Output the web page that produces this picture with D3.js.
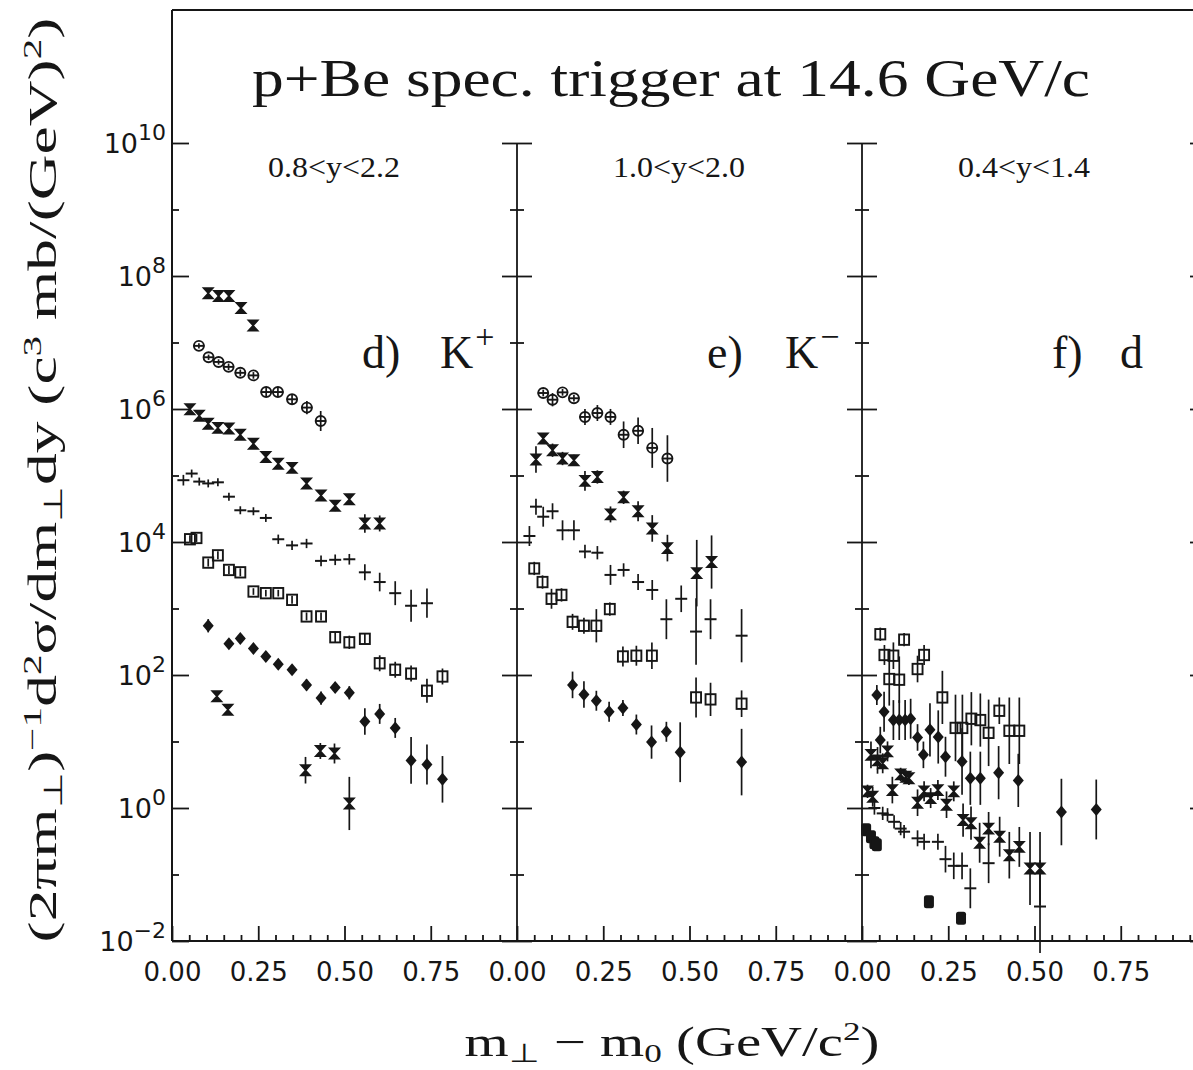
<!DOCTYPE html>
<html>
<head>
<meta charset="utf-8">
<script src="https://cdn.jsdelivr.net/npm/d3@7"></script>
<style>
  body { margin: 0; background: #fff; }
  svg { display: block; }
</style>
</head>
<body>
<div id="chart"></div>
<script>
// axis ticks and labels
const xMajorTicks = [0, 0.25, 0.5, 0.75];
const xMinorTicks = [0.05, 0.1, 0.15, 0.2, 0.3, 0.35, 0.4, 0.45, 0.55, 0.6, 0.65, 0.7, 0.8, 0.85, 0.9, 0.95];
const yMajorExps = [-2, 0, 2, 4, 6, 8, 10];
const yMinorExps = [-1, 1, 3, 5, 7, 9];
const rapidityLabels = ['0.8<y<2.2', '1.0<y<2.0', '0.4<y<1.4'];
const particleLabels = [['d)', 'K', '+'], ['e)', 'K', '\u2212'], ['f)', 'd', '']];

// d) K+   (x = mT - m0, y = invariant yield, e = half error bar in decades)
const kpStarA = {
  x: [0.105, 0.135, 0.165, 0.20, 0.235],
  y: [5.5e7, 5.0e7, 5.0e7, 3.3e7, 1.8e7],
  e: [0.04, 0.04, 0.04, 0.05, 0.07]
};
const kpCircle = {
  x: [0.078, 0.106, 0.135, 0.164, 0.198, 0.236, 0.273, 0.307, 0.348, 0.391, 0.431],
  y: [8.9e6, 6.0e6, 5.1e6, 4.3e6, 3.5e6, 3.2e6, 1.8e6, 1.8e6, 1.4e6, 1.05e6, 6.6e5],
  e: [0.04, 0.04, 0.04, 0.05, 0.05, 0.05, 0.06, 0.06, 0.07, 0.1, 0.15]
};
const kpStarB = {
  x: [0.052, 0.079, 0.105, 0.133, 0.165, 0.198, 0.236, 0.272, 0.308, 0.348, 0.390, 0.432, 0.473, 0.514, 0.559, 0.602],
  y: [9.9e5, 7.9e5, 6.0e5, 5.2e5, 5.1e5, 4.1e5, 3.0e5, 1.9e5, 1.5e5, 1.3e5, 7.6e4, 5.0e4, 3.5e4, 4.4e4, 1.9e4, 1.9e4],
  e: [0.04, 0.04, 0.04, 0.04, 0.04, 0.05, 0.05, 0.05, 0.06, 0.06, 0.07, 0.08, 0.08, 0.08, 0.14, 0.12]
};
const kpCross = {
  x: [0.033, 0.057, 0.079, 0.105, 0.133, 0.165, 0.198, 0.236, 0.272, 0.308, 0.348, 0.390, 0.432, 0.473, 0.514, 0.559, 0.602, 0.647, 0.693, 0.739],
  y: [8.5e4, 1.07e5, 8.1e4, 7.6e4, 7.9e4, 4.8e4, 3.0e4, 2.9e4, 2.3e4, 1.1e4, 8.9e3, 9.5e3, 5.2e3, 5.4e3, 5.5e3, 3.5e3, 2.5e3, 1.7e3, 1.1e3, 1.2e3],
  e: [0.08, 0.06, 0.06, 0.06, 0.06, 0.06, 0.06, 0.06, 0.06, 0.07, 0.07, 0.07, 0.08, 0.08, 0.08, 0.12, 0.14, 0.18, 0.24, 0.22]
};
const kpSquare = {
  x: [0.052, 0.071, 0.105, 0.133, 0.165, 0.198, 0.236, 0.272, 0.308, 0.348, 0.390, 0.432, 0.473, 0.514, 0.559, 0.602, 0.647, 0.693, 0.739, 0.784],
  y: [1.1e4, 1.15e4, 4.9e3, 6.3e3, 3.8e3, 3.5e3, 1.8e3, 1.7e3, 1.7e3, 1.35e3, 760, 760, 370, 310, 350, 150, 120, 105, 58, 95],
  e: [0.06, 0.06, 0.06, 0.06, 0.06, 0.06, 0.05, 0.05, 0.05, 0.06, 0.06, 0.06, 0.08, 0.1, 0.08, 0.12, 0.12, 0.12, 0.18, 0.12]
};
const kpDiamond = {
  x: [0.105, 0.165, 0.198, 0.236, 0.272, 0.308, 0.348, 0.390, 0.432, 0.473, 0.514, 0.559, 0.602, 0.647, 0.693, 0.739, 0.784],
  y: [550, 295, 355, 250, 190, 145, 120, 71, 45, 65, 54, 20, 26, 16, 5.2, 4.5, 2.7],
  e: [0.1, 0.05, 0.05, 0.05, 0.05, 0.05, 0.05, 0.08, 0.1, 0.08, 0.1, 0.2, 0.15, 0.15, 0.35, 0.3, 0.35]
};
const kpStarC = {
  x: [0.130, 0.162, 0.387, 0.430, 0.471, 0.514],
  y: [48, 30, 3.7, 7.2, 6.6, 1.17],
  e: [0.06, 0.06, 0.2, 0.12, 0.15, 0.4]
};

// e) K-
const kmCircle = {
  x: [0.076, 0.103, 0.132, 0.165, 0.197, 0.233, 0.271, 0.309, 0.351, 0.392, 0.436],
  y: [1.74e6, 1.38e6, 1.78e6, 1.45e6, 7.6e5, 8.7e5, 7.6e5, 4.1e5, 4.7e5, 2.6e5, 1.8e5],
  e: [0.05, 0.1, 0.05, 0.05, 0.12, 0.12, 0.12, 0.2, 0.2, 0.3, 0.35]
};
const kmStar = {
  x: [0.055, 0.076, 0.103, 0.132, 0.165, 0.197, 0.233, 0.271, 0.309, 0.351, 0.392, 0.436, 0.521, 0.564],
  y: [1.74e5, 3.6e5, 2.4e5, 1.8e5, 1.7e5, 8.3e4, 9.5e4, 2.6e4, 4.7e4, 2.9e4, 1.6e4, 8.1e3, 3.4e3, 5.0e3],
  e: [0.2, 0.06, 0.1, 0.1, 0.08, 0.15, 0.1, 0.12, 0.1, 0.15, 0.2, 0.2, 0.5, 0.4]
};
const kmCross = {
  x: [0.036, 0.055, 0.076, 0.103, 0.132, 0.165, 0.197, 0.233, 0.271, 0.309, 0.351, 0.392, 0.433, 0.476, 0.519, 0.561, 0.651],
  y: [1.23e4, 3.4e4, 2.4e4, 2.9e4, 1.5e4, 1.5e4, 7.2e3, 6.9e3, 3.2e3, 3.8e3, 2.5e3, 1.9e3, 690, 1.4e3, 450, 690, 390],
  e: [0.15, 0.12, 0.15, 0.12, 0.15, 0.15, 0.1, 0.1, 0.15, 0.1, 0.12, 0.15, 0.3, 0.2, 0.5, 0.3, 0.4]
};
const kmSquare = {
  x: [0.05, 0.074, 0.100, 0.129, 0.161, 0.194, 0.230, 0.269, 0.307, 0.346, 0.391, 0.519, 0.561, 0.651],
  y: [4.0e3, 2.5e3, 1.4e3, 1.6e3, 630, 550, 550, 980, 190, 195, 195, 46, 43, 37],
  e: [0.1, 0.1, 0.15, 0.1, 0.12, 0.12, 0.25, 0.1, 0.15, 0.15, 0.2, 0.3, 0.25, 0.2]
};
const kmDiamond = {
  x: [0.161, 0.194, 0.230, 0.267, 0.307, 0.346, 0.390, 0.433, 0.473, 0.651],
  y: [71, 51, 41, 28, 32, 18, 9.8, 14, 6.9, 4.9],
  e: [0.2, 0.2, 0.15, 0.15, 0.12, 0.15, 0.25, 0.15, 0.45, 0.5]
};

// f) d
const dSquare = {
  x: [0.053, 0.065, 0.079, 0.091, 0.108, 0.122, 0.161, 0.180, 0.233, 0.271, 0.291, 0.317, 0.343, 0.367, 0.398, 0.427, 0.456],
  y: [410, 200, 87, 195, 85, 340, 123, 200, 46, 16, 16, 22, 21, 13.5, 29, 14.5, 14.5],
  e: [0.1, 0.15, 0.4, 0.2, 0.35, 0.1, 0.2, 0.15, 0.4, 0.5, 0.5, 0.4, 0.4, 0.5, 0.2, 0.5, 0.5]
};
const dDiamond = {
  x: [0.043, 0.053, 0.064, 0.091, 0.108, 0.125, 0.141, 0.161, 0.178, 0.197, 0.221, 0.242, 0.290, 0.314, 0.343, 0.396, 0.453, 0.578, 0.679],
  y: [50, 10.5, 28, 21, 21, 21, 22, 11.5, 6.3, 15, 11.7, 5.9, 5.0, 2.8, 2.8, 3.4, 2.6, 0.87, 0.95],
  e: [0.15, 0.2, 0.3, 0.3, 0.3, 0.3, 0.3, 0.2, 0.2, 0.4, 0.4, 0.3, 0.5, 0.4, 0.4, 0.4, 0.4, 0.5, 0.45]
};
const dStar = {
  x: [0.016, 0.026, 0.031, 0.045, 0.060, 0.074, 0.088, 0.112, 0.127, 0.136, 0.161, 0.180, 0.199, 0.220, 0.245, 0.266, 0.293, 0.316, 0.341, 0.367, 0.399, 0.427, 0.456, 0.487, 0.516],
  y: [1.78, 6.3, 1.48, 5.2, 4.7, 7.1, 1.86, 3.2, 2.95, 2.8, 1.2, 1.78, 1.41, 1.86, 1.12, 1.78, 0.66, 0.59, 0.30, 0.49, 0.37, 0.195, 0.26, 0.123, 0.123],
  e: [0.1, 0.2, 0.15, 0.2, 0.15, 0.15, 0.2, 0.1, 0.1, 0.1, 0.2, 0.15, 0.15, 0.15, 0.2, 0.15, 0.25, 0.25, 0.3, 0.25, 0.3, 0.35, 0.3, 0.55, 0.55]
};
const dCross = {
  x: [0.036, 0.060, 0.074, 0.093, 0.112, 0.122, 0.161, 0.180, 0.220, 0.242, 0.266, 0.290, 0.314, 0.367, 0.516],
  y: [1.0, 0.83, 0.79, 0.62, 0.49, 0.44, 0.35, 0.31, 0.31, 0.17, 0.135, 0.135, 0.062, 0.148, 0.033],
  e: [0.1, 0.1, 0.1, 0.1, 0.1, 0.1, 0.12, 0.12, 0.12, 0.2, 0.2, 0.2, 0.3, 0.3, 0.7]
};
const dFilled = {
  x: [0.012, 0.026, 0.036, 0.043, 0.194, 0.287],
  y: [0.47, 0.37, 0.30, 0.28, 0.039, 0.022],
  e: [0.08, 0.08, 0.08, 0.08, 0.08, 0.08]
};

const panelSeries = [
  [['star', kpStarA], ['circle', kpCircle], ['star', kpStarB], ['cross', kpCross], ['square', kpSquare], ['diamond', kpDiamond], ['star', kpStarC]],
  [['circle', kmCircle], ['star', kmStar], ['cross', kmCross], ['square', kmSquare], ['diamond', kmDiamond]],
  [['square', dSquare], ['diamond', dDiamond], ['star', dStar], ['cross', dCross], ['filled', dFilled]]
];

const width = 1193;
const height = 1070;
const plotLeft = 172;
const plotTop = 10;
const plotBottom = 941;
const panelW = 345;
const ink = '#161616';
const serif = "'Liberation Serif', 'Times New Roman', serif";

const svg = d3.select('#chart').append('svg')
  .attr('width', width).attr('height', height)
  .style('font-family', serif);

const y = d3.scaleLog().domain([1e-2, 1e12]).range([plotBottom, plotTop]);
const yMajor = yMajorExps.map((e) => Math.pow(10, e));
const yMinor = yMinorExps.map((e) => Math.pow(10, e));

const xScales = [0, 1, 2].map((i) =>
  d3.scaleLinear().domain([0, 1]).range([plotLeft + i * panelW, plotLeft + (i + 1) * panelW])
);

// frame
svg.append('line').attr('x1', plotLeft).attr('x2', width).attr('y1', plotTop).attr('y2', plotTop)
  .attr('stroke', ink).attr('stroke-width', 2);
svg.append('line').attr('x1', plotLeft).attr('x2', plotLeft).attr('y1', plotTop).attr('y2', plotBottom)
  .attr('stroke', ink).attr('stroke-width', 2);
svg.append('line').attr('x1', plotLeft).attr('x2', width).attr('y1', plotBottom).attr('y2', plotBottom)
  .attr('stroke', ink).attr('stroke-width', 2.2);

function styleAxis(sel) {
  sel.select('.domain').remove();
  sel.selectAll('.tick line').attr('stroke', ink).attr('stroke-width', 1.8);
}

// y axes: left frame, two dividers and the right edge
const yAxisXs = [plotLeft, xScales[1](0), xScales[2](0), xScales[2](1)];
yAxisXs.forEach((ax, i) => {
  if (i > 0) {
    svg.append('line').attr('x1', ax).attr('x2', ax).attr('y1', y(1e10)).attr('y2', plotBottom)
      .attr('stroke', ink).attr('stroke-width', 1.8);
  }
  if (i < 3) {
    const major = svg.append('g').attr('transform', `translate(${ax},0)`)
      .call(d3.axisLeft(y).tickValues(yMajor).tickSize(i === 0 ? -17 : -15).tickFormat(''));
    const minor = svg.append('g').attr('transform', `translate(${ax},0)`)
      .call(d3.axisLeft(y).tickValues(yMinor).tickSize(-7).tickFormat(''));
    styleAxis(major); styleAxis(minor);
  }
  if (i > 0) {
    const major = svg.append('g').attr('transform', `translate(${ax},0)`)
      .call(d3.axisLeft(y).tickValues(yMajor).tickSize(i === 3 ? 17 : 15).tickFormat(''));
    const minor = svg.append('g').attr('transform', `translate(${ax},0)`)
      .call(d3.axisLeft(y).tickValues(yMinor).tickSize(7).tickFormat(''));
    styleAxis(major); styleAxis(minor);
  }
});

// y tick labels 10^n
const yLab = svg.append('g').style('font-family', "'DejaVu Sans', sans-serif").attr('fill', ink);
yMajorExps.forEach((e) => {
  const t = yLab.append('text').attr('x', 166).attr('y', y(Math.pow(10, e)) + 10).attr('text-anchor', 'end');
  t.append('tspan').attr('font-size', 27).text('10');
  t.append('tspan').attr('font-size', 22).attr('dy', -13).text(String(e).replace('-', '\u2212'));
});

// x axes
xScales.forEach((sx) => {
  const major = svg.append('g').attr('transform', `translate(0,${plotBottom})`)
    .call(d3.axisBottom(sx).tickValues(xMajorTicks).tickSize(-15).tickPadding(22)
      .tickFormat(d3.format('.2f')));
  const minor = svg.append('g').attr('transform', `translate(0,${plotBottom})`)
    .call(d3.axisBottom(sx).tickValues(xMinorTicks).tickSize(-6).tickFormat(''));
  styleAxis(major); styleAxis(minor);
  major.selectAll('text').attr('fill', ink).attr('font-size', 26)
    .style('font-family', "'DejaVu Sans', sans-serif");
});

// markers
function drawSeries(g, sx, kind, s) {
  const pts = d3.zip(s.x, s.y, s.e);
  const pt = g.append('g').selectAll('g').data(pts).join('g')
    .attr('transform', (d) => `translate(${sx(d[0])},${y(d[1])})`);
  pt.append('line')
    .attr('y1', (d) => y(d[1] * Math.pow(10, d[2])) - y(d[1]))
    .attr('y2', (d) => y(d[1] / Math.pow(10, d[2])) - y(d[1]))
    .attr('stroke', ink).attr('stroke-width', 1.7);
  if (kind === 'star') {
    pt.append('path').attr('d', 'M-4.8,-5.2H4.8L-4.8,5.2H4.8Z')
      .attr('fill', ink).attr('stroke', ink).attr('stroke-width', 1.5);
  } else if (kind === 'circle') {
    pt.append('circle').attr('r', 5).attr('fill', 'none').attr('stroke', ink).attr('stroke-width', 1.9);
    pt.append('line').attr('x1', -5.5).attr('x2', 5.5).attr('stroke', ink).attr('stroke-width', 1.9);
  } else if (kind === 'cross') {
    pt.append('line').attr('x1', -6).attr('x2', 6).attr('stroke', ink).attr('stroke-width', 2);
  } else if (kind === 'square') {
    pt.append('rect').attr('x', -5).attr('y', -5.2).attr('width', 10).attr('height', 10.4)
      .attr('fill', 'none').attr('stroke', ink).attr('stroke-width', 1.9);
  } else if (kind === 'diamond') {
    pt.append('path').attr('d', 'M0,-6.5L5.5,0L0,6.5L-5.5,0Z').attr('fill', ink);
  } else if (kind === 'filled') {
    pt.append('rect').attr('x', -5).attr('y', -6.5).attr('width', 10).attr('height', 13)
      .attr('rx', 2.5).attr('fill', ink);
  }
}

panelSeries.forEach((list, i) => {
  const g = svg.append('g');
  list.forEach(([kind, s]) => drawSeries(g, xScales[i], kind, s));
});

// texts
svg.append('text').attr('x', 671).attr('y', 96).attr('text-anchor', 'middle')
  .attr('font-size', 52).attr('fill', ink)
  .attr('textLength', 838).attr('lengthAdjust', 'spacingAndGlyphs')
  .text('p+Be spec. trigger at 14.6 GeV/c');

xScales.forEach((sx, i) => {
  const x0 = sx(0);
  svg.append('text').attr('x', x0 + 162).attr('y', 177).attr('text-anchor', 'middle')
    .attr('font-size', 30).attr('fill', ink)
    .attr('textLength', 132).attr('lengthAdjust', 'spacingAndGlyphs')
    .text(rapidityLabels[i]);
  const [a, b, c] = particleLabels[i];
  svg.append('text').attr('x', x0 + 190).attr('y', 368).attr('font-size', 46).attr('fill', ink).text(a);
  const t = svg.append('text').attr('x', x0 + (i === 2 ? 258 : 268)).attr('y', 368)
    .attr('font-size', 46).attr('fill', ink);
  t.append('tspan').text(b);
  if (c) t.append('tspan').attr('font-size', 34).attr('dy', -20).attr('dx', 2).text(c);
});

// x title
const xt = svg.append('text').attr('x', 672).attr('y', 1056).attr('text-anchor', 'middle')
  .attr('font-size', 42).attr('fill', ink)
  .attr('textLength', 415).attr('lengthAdjust', 'spacingAndGlyphs');
xt.append('tspan').text('m');
xt.append('tspan').attr('font-size', 26).attr('dy', 6).text('\u22a5');
xt.append('tspan').attr('dy', -6).text(' \u2212 m');
xt.append('tspan').attr('font-size', 26).attr('dy', 6).text('0');
xt.append('tspan').attr('dy', -6).text(' (GeV/c');
xt.append('tspan').attr('font-size', 26).attr('dy', -16).text('2');
xt.append('tspan').attr('dy', 16).text(')');

// y title
const yt = svg.append('text').attr('transform', 'translate(56,480) rotate(-90)')
  .attr('text-anchor', 'middle').attr('font-size', 40).attr('fill', ink)
  .attr('textLength', 925).attr('lengthAdjust', 'spacingAndGlyphs');
const ySeq = [
  ['(2\u03c0m', 0], ['\u22a5', 1], [')', 0], ['\u22121', -1], ['d', 0], ['2', -1],
  ['\u03c3/dm', 0], ['\u22a5', 1], ['dy (c', 0], ['3', -1], [' mb/(GeV)', 0], ['2', -1], [')', 0]
];
let shift = 0;
ySeq.forEach(([txt, pos]) => {
  const target = pos === 1 ? 6 : pos === -1 ? -15 : 0;
  yt.append('tspan').attr('font-size', pos === 0 ? 40 : 26).attr('dy', target - shift).text(txt);
  shift = target;
});
</script>
</body>
</html>
